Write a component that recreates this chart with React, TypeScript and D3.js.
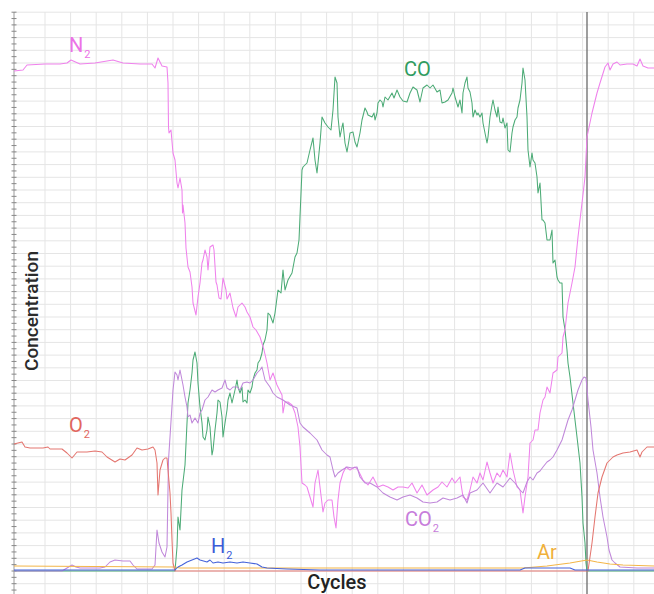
import React from "react";
import * as d3 from "d3";

type Pt = [number, number];

// cycles (x) and concentration (arbitrary units, y)
const n2: Pt[] = [
  [0,500],[9,501],[13,506],[31,507],[46,507],[53,508],[57,511],[66,507],[81,508],[99,511],[109,508],[126,507],[138,507],[141,503],[144,513],[148,505],[153,504],
  [154,488],[154.5,444],[155,438],[157,441],[159,418],[161,411],[163,388],[164,383],[166,393],[168,381],[168.5,358],[169,366],[171,348],[172,323],[174,304],[176,299],[178,284],[179,268],[182,256],[184,274],[186,288],[188,308],[189,311],[191,321],[193,314],[194,301],[196,324],[199,326],[200,321],[202,289],[203,286],[205,273],[207,272],[209,293],[212,281],[213,272],[216,278],[218,268],[219,263],[222,254],[224,264],[228,268],[231,264],[233,259],[236,254],[239,244],[242,241],[246,234],[250,221],[253,208],[256,191],[259,198],[263,186],[268,176],[269,158],[271,169],[274,169],[278,166],[281,158],[284,144],[286,124],[288,88],[291,86],[293,84],[296,74],[299,64],[301,88],[304,101],[306,84],[309,59],[311,68],[314,71],[318,71],[320,54],[322,43],[324,71],[326,88],[329,98],[332,104],[336,101],[341,104],[344,101],[349,91],[354,86],[359,94],[364,84],[369,86],[374,84],[379,81],[384,84],[389,84],[394,83],[398,88],[403,78],[408,86],[413,76],[419,81],[424,84],[428,89],[433,84],[438,93],[441,88],[446,94],[449,74],[453,71],[456,81],[459,94],[463,88],[466,98],[469,91],[473,109],[476,98],[479,88],[483,98],[486,94],[489,101],[493,94],[496,118],[499,101],[503,84],[506,81],[509,58],[511,74],[514,94],[516,128],[519,131],[521,141],[524,141],[526,158],[529,171],[531,174],[533,184],[536,178],[539,198],[543,201],[544,214],[548,218],[549,234],[551,241],[554,268],[558,288],[561,304],[564,334],[568,368],[571,394],[573,434],[578,458],[583,478],[586,488],[591,504],[594,508],[596,501],[599,507],[603,509],[606,506],[613,507],[619,507],[623,505],[626,512],[629,505],[634,503],[640,503]
];

const co2: Pt[] = [
  [0,0],[48,0],[58,6],[62,4],[66,3],[86,3],[91,4],[96,9],[101,11],[109,10],[116,10],[119,6],[123,2],[138,2],[141,6],[143,41],[145,28],[148,19],[151,14],[153,24],[154,81],[154.5,111],[156,134],[159,181],[161,199],[163,196],[164,191],[166,201],[168,191],[169,186],[171,174],[173,164],[174,154],[176,156],[178,148],[181,153],[184,148],[186,158],[188,161],[191,171],[194,174],[198,181],[201,179],[204,181],[208,183],[211,191],[213,183],[216,181],[219,184],[223,184],[226,181],[229,188],[233,189],[236,188],[239,191],[243,198],[246,201],[248,204],[251,191],[256,184],[259,178],[263,174],[269,171],[276,166],[283,163],[286,148],[289,144],[296,138],[303,131],[308,121],[313,116],[316,114],[319,101],[321,94],[324,98],[328,101],[333,104],[338,103],[343,104],[346,94],[351,88],[356,88],[363,84],[369,78],[376,74],[383,71],[389,74],[396,76],[403,73],[409,69],[416,68],[423,69],[429,73],[436,71],[443,73],[449,76],[453,68],[456,78],[463,81],[469,88],[476,78],[483,88],[489,84],[496,93],[501,88],[506,81],[509,78],[513,89],[516,94],[519,91],[523,98],[526,100],[529,104],[533,109],[536,111],[539,114],[543,121],[548,131],[551,141],[554,151],[558,161],[561,171],[564,181],[568,191],[570,194],[572,193],[574,171],[577,144],[579,121],[583,98],[586,74],[589,54],[593,34],[595,21],[598,11],[601,8],[606,4],[623,3],[640,3]
];

const co: Pt[] = [
  [0,0],[161,0],[163,24],[164,54],[166,41],[168,81],[171,106],[173,148],[174,168],[176,181],[178,198],[179,211],[181,219],[183,208],[184,188],[186,164],[188,148],[189,134],[191,131],[193,141],[194,154],[196,144],[198,116],[199,121],[201,141],[203,158],[204,171],[206,169],[208,154],[209,134],[211,148],[213,161],[214,171],[216,178],[218,168],[221,181],[223,191],[224,184],[226,178],[228,184],[229,169],[231,171],[233,168],[234,181],[236,178],[238,184],[239,191],[241,198],[243,201],[244,208],[246,211],[248,218],[249,226],[251,231],[253,241],[254,258],[256,256],[259,248],[261,258],[264,281],[267,278],[269,301],[271,281],[274,291],[278,298],[281,314],[283,318],[285,331],[288,401],[289,404],[293,408],[296,421],[299,433],[301,411],[303,398],[306,428],[308,454],[311,448],[314,444],[317,441],[319,461],[321,494],[323,488],[324,454],[326,434],[328,444],[329,448],[331,428],[333,419],[335,431],[336,438],[339,439],[341,429],[343,424],[346,438],[348,451],[351,463],[353,459],[354,456],[358,454],[360,458],[361,451],[363,458],[364,468],[366,471],[368,469],[369,464],[371,474],[374,471],[378,478],[380,473],[383,481],[386,474],[389,470],[393,469],[396,478],[399,484],[403,481],[406,469],[409,483],[413,486],[416,483],[419,486],[423,479],[426,481],[428,468],[431,469],[434,471],[438,478],[439,483],[441,474],[444,464],[446,471],[448,458],[449,478],[451,488],[453,494],[454,483],[456,479],[458,468],[459,454],[461,461],[463,456],[464,458],[466,454],[468,458],[469,448],[471,438],[473,428],[474,434],[476,454],[478,466],[479,471],[481,461],[483,454],[484,464],[486,449],[488,448],[489,453],[491,443],[493,448],[494,421],[496,419],[498,438],[499,444],[501,451],[503,454],[504,463],[506,471],[508,488],[509,503],[511,491],[513,454],[514,421],[516,404],[518,418],[519,411],[521,408],[523,394],[524,378],[526,388],[528,351],[529,351],[531,348],[533,331],[536,331],[538,341],[539,308],[541,311],[543,294],[544,291],[546,288],[548,288],[549,254],[551,241],[553,221],[554,208],[556,194],[559,168],[563,134],[566,108],[568,74],[569,48],[571,28],[572,8],[573,0],[640,0]
];

const o2: Pt[] = [
  [0,127],[4,128],[8,129],[11,124],[16,123],[29,123],[34,124],[36,122],[48,122],[53,118],[58,113],[63,119],[73,119],[81,120],[88,119],[93,114],[101,109],[106,112],[111,111],[118,116],[123,123],[128,121],[134,122],[139,124],[141,121],[143,108],[144,76],[146,101],[149,111],[151,113],[153,113],[154,101],[156,78],[157,58],[158,31],[159,8],[161,0],[574,0],[578,28],[581,54],[584,78],[588,94],[593,108],[596,111],[599,114],[603,116],[609,118],[616,119],[623,121],[626,114],[628,119],[633,124],[640,124]
];

const h2: Pt[] = [
  [0,1],[161,1],[164,4],[168,6],[173,9],[178,11],[183,13],[186,11],[193,9],[196,11],[199,8],[204,9],[209,8],[216,9],[223,8],[229,9],[236,8],[243,7],[248,4],[253,3],[273,2],[306,1],[506,1],[511,3],[556,3],[561,1],[640,1]
];

const ar: Pt[] = [
  [0,5],[161,4],[166,3],[509,3],[533,5],[556,8],[573,11],[583,9],[596,7],[609,6],[640,5]
];

const markerCycle = 573;

const seriesNames = ["CO", "N2", "CO2", "Ar", "O2", "H2"];
const seriesData: Record<string, Pt[]> = { Ar: ar, O2: o2, H2: h2, CO2: co2, N2: n2, CO: co };
const seriesColors: Record<string, string> = {
  Ar: "#f3b649", O2: "#e47670", H2: "#4563da", CO2: "#c088da", N2: "#ef82ec", CO: "#4cab76",
};

// label anchor points: [cycle, value]
const labelNames = ["N", "CO", "CO", "O", "H", "Ar"];
const labelSubs = ["2", "", "2", "2", "2", ""];
const labelPos: Pt[] = [[55, 519], [390, 495], [391, 45], [55, 139], [197, 18], [523, 12]];
const labelColors = ["#ec72e6", "#2f9c5f", "#c77ddb", "#e2665e", "#3b5bd7", "#f0b03a"];

export default function App() {
  const W = 654, H = 594;
  const x = d3.scaleLinear().domain([0, 640]).range([14, 654]);
  const y = d3.scaleLinear().domain([0, 559]).range([571, 12]);
  const line = d3.line<Pt>().x((d) => x(d[0])).y((d) => y(d[1])).curve(d3.curveLinear);

  const hGrid = d3.range(-1, 45).map((k) => k * 12.7);
  const vGrid = d3.range(0, 25).map((k) => 31 + k * 25.6);
  const ticks = d3.range(-3, 89).map((k) => k * 6.35);

  return (
    <svg width={W} height={H} style={{ position: "absolute", left: 0, top: 0, background: "#fff" }}
      fontFamily="Roboto, 'Noto Sans', sans-serif">
      <rect x={0} y={0} width={W} height={H} fill="#fff" />
      <g stroke="#e5e5e5" strokeWidth={1}>
        {hGrid.map((v, i) => (
          <line key={"h" + i} x1={x(0)} x2={W} y1={y(v)} y2={y(v)} />
        ))}
        {vGrid.map((c, i) => (
          <line key={"v" + i} x1={x(c)} x2={x(c)} y1={y(559)} y2={H} />
        ))}
      </g>
      <line x1={x(0)} x2={x(0)} y1={y(559)} y2={H} stroke="#9a9a9a" strokeWidth={1} />
      <g stroke="#888" strokeWidth={1}>
        {ticks.map((v, i) => (
          <line key={"t" + i} x1={x(0) - 2.5} x2={x(0) + 2.5} y1={y(v)} y2={y(v)} />
        ))}
      </g>
      <line x1={x(markerCycle)} x2={x(markerCycle)} y1={y(559)} y2={H} stroke="#6b6b6b" strokeWidth={1.3} />
      {seriesNames.map((n) => (
        <path key={n} d={line(seriesData[n]) || ""} fill="none" stroke={seriesColors[n]} strokeWidth={1.05}
          strokeLinejoin="round" />
      ))}
      {labelNames.map((n, i) => (
        <text key={"l" + i} x={x(labelPos[i][0])} y={y(labelPos[i][1])} fill={labelColors[i]} fontSize={20}>
          {n}
          {labelSubs[i] ? (
            <tspan fontSize={11} dx={1} dy={6}>{labelSubs[i]}</tspan>
          ) : null}
        </text>
      ))}
      <text transform={`translate(38,${y(260)}) rotate(-90)`} textAnchor="middle" fontSize={19} fontWeight={500} fill="#2b2b2b">
        Concentration
      </text>
      <text x={337} y={589} textAnchor="middle" fontSize={20} fontWeight={500} fill="#222">Cycles</text>
    </svg>
  );
}
